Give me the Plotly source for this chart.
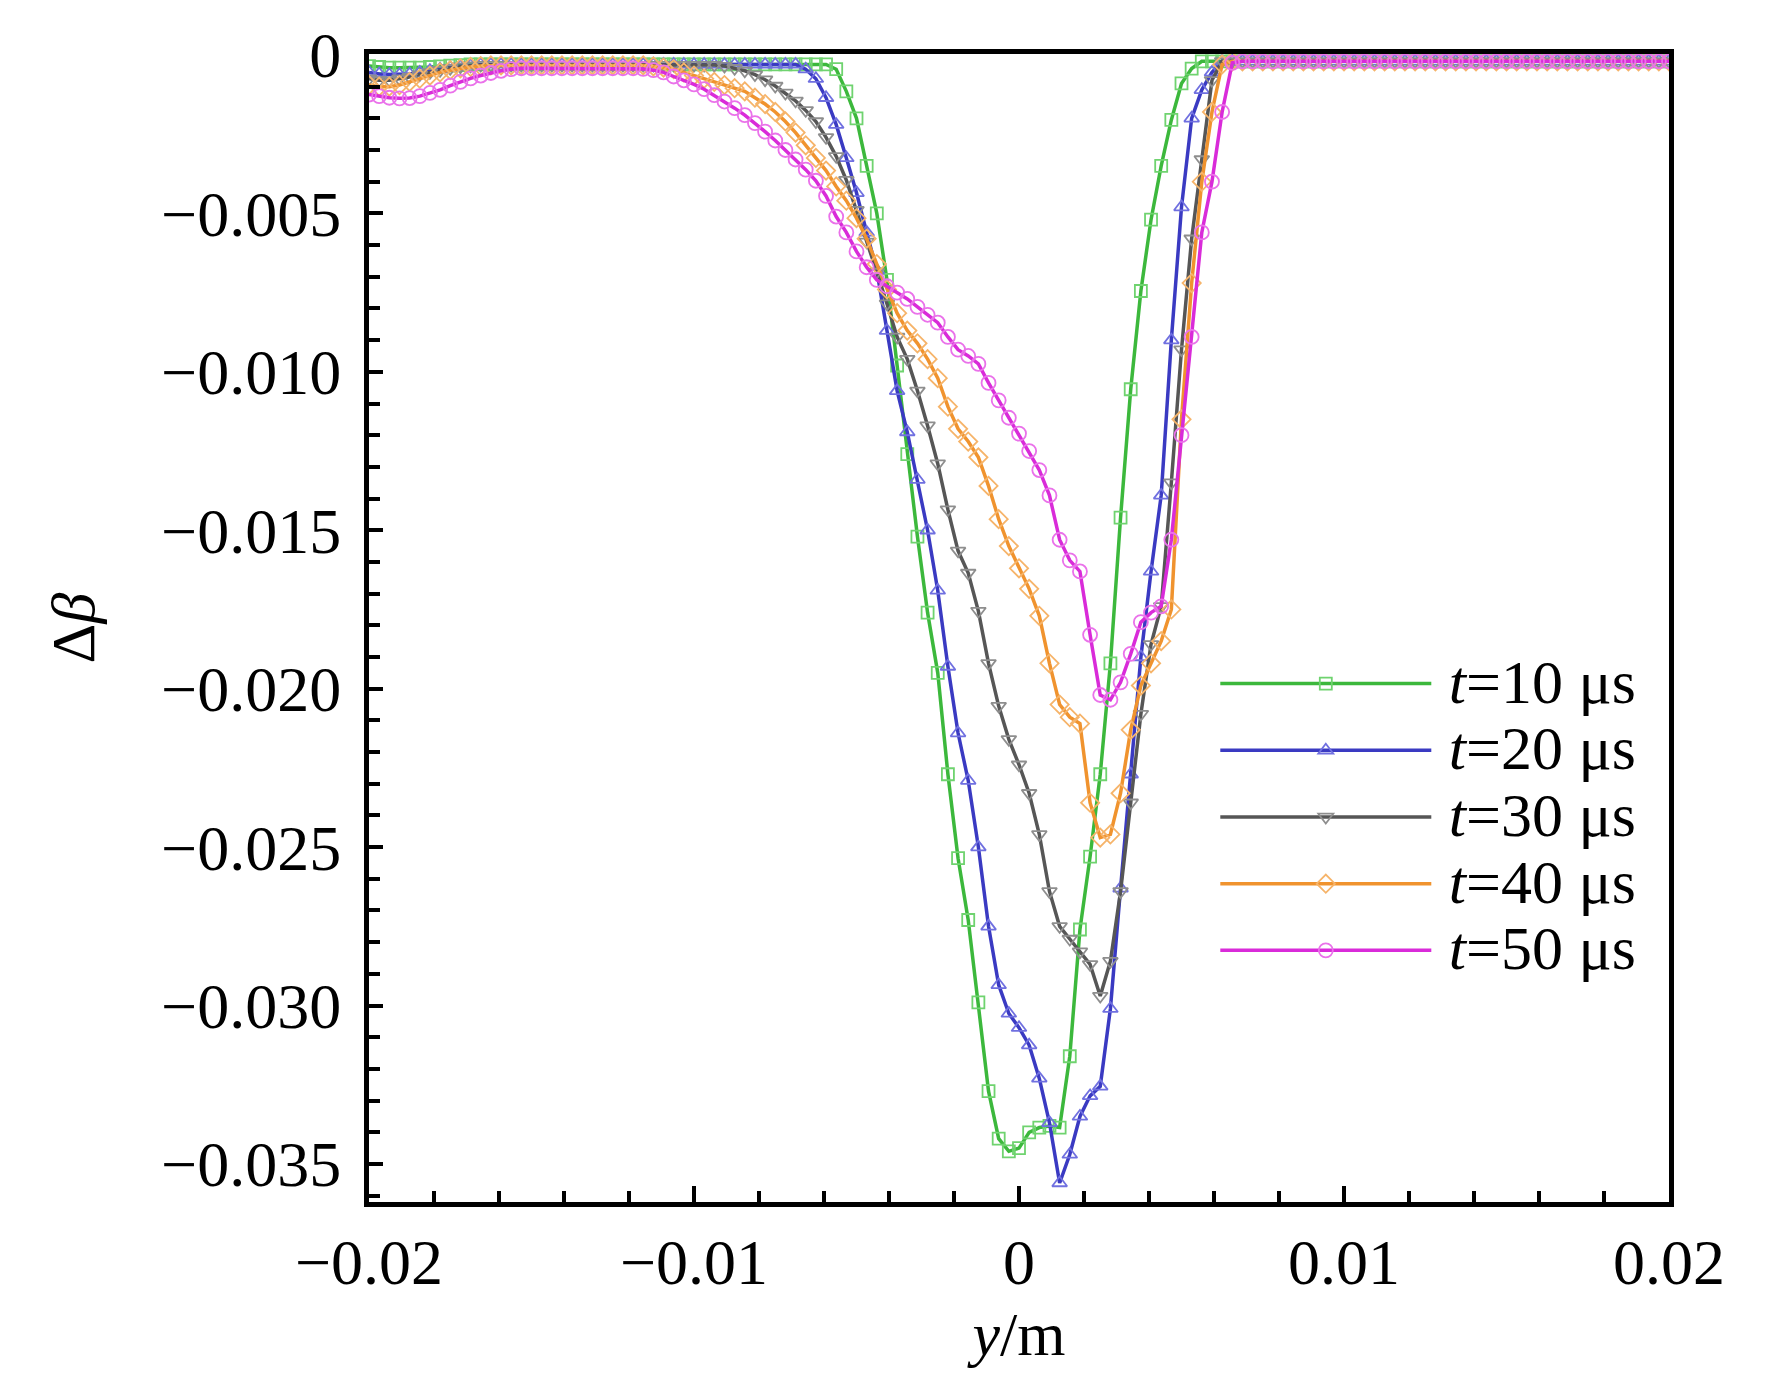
import plotly.graph_objects as go

# sampling positions along y (mm); every point carries a marker
y_mm = [
    -20.0, -19.6875, -19.375, -19.0625, -18.75, -18.4375, -18.125, -17.8125,
    -17.5, -17.1875, -16.875, -16.5625, -16.25, -15.9375, -15.625, -15.3125,
    -15.0, -14.6875, -14.375, -14.0625, -13.75, -13.4375, -13.125, -12.8125,
    -12.5, -12.1875, -11.875, -11.5625, -11.25, -10.9375, -10.625, -10.3125,
    -10.0, -9.6875, -9.375, -9.0625, -8.75, -8.4375, -8.125, -7.8125,
    -7.5, -7.1875, -6.875, -6.5625, -6.25, -5.9375, -5.625, -5.3125,
    -5.0, -4.6875, -4.375, -4.0625, -3.75, -3.4375, -3.125, -2.8125,
    -2.5, -2.1875, -1.875, -1.5625, -1.25, -0.9375, -0.625, -0.3125,
    0.0, 0.3125, 0.625, 0.9375, 1.25, 1.5625, 1.875, 2.1875,
    2.5, 2.8125, 3.125, 3.4375, 3.75, 4.0625, 4.375, 4.6875,
    5.0, 5.3125, 5.625, 5.9375, 6.25, 6.5625, 6.875, 7.1875,
    7.5, 7.8125, 8.125, 8.4375, 8.75, 9.0625, 9.375, 9.6875,
    10.0, 10.3125, 10.625, 10.9375, 11.25, 11.5625, 11.875, 12.1875,
    12.5, 12.8125, 13.125, 13.4375, 13.75, 14.0625, 14.375, 14.6875,
    15.0, 15.3125, 15.625, 15.9375, 16.25, 16.5625, 16.875, 17.1875,
    17.5, 17.8125, 18.125, 18.4375, 18.75, 19.0625, 19.375, 19.6875,
    20.0,
]

# delta beta, in units of 1e-3
dbeta_10 = [
    -0.35, -0.38, -0.40, -0.40, -0.40, -0.40, -0.38, -0.36,
    -0.34, -0.32, -0.30, -0.30, -0.30, -0.30, -0.30, -0.30,
    -0.30, -0.30, -0.30, -0.30, -0.30, -0.30, -0.30, -0.30,
    -0.30, -0.30, -0.30, -0.30, -0.30, -0.30, -0.30, -0.30,
    -0.30, -0.30, -0.30, -0.30, -0.30, -0.30, -0.30, -0.30,
    -0.30, -0.30, -0.30, -0.30, -0.30, -0.30, -0.45, -1.15,
    -2.00, -3.50, -5.00, -7.10, -9.80, -12.60, -15.20, -17.60,
    -19.50, -22.70, -25.35, -27.30, -29.90, -32.70, -34.20, -34.60,
    -34.50, -34.00, -33.85, -33.80, -33.85, -31.60, -27.60, -25.30,
    -22.70, -19.20, -14.60, -10.55, -7.45, -5.20, -3.50, -2.05,
    -0.90, -0.43, -0.20, -0.20, -0.20, -0.20, -0.20, -0.20,
    -0.20, -0.20, -0.20, -0.20, -0.20, -0.20, -0.20, -0.20,
    -0.20, -0.20, -0.20, -0.20, -0.20, -0.20, -0.20, -0.20,
    -0.20, -0.20, -0.20, -0.20, -0.20, -0.20, -0.20, -0.20,
    -0.20, -0.20, -0.20, -0.20, -0.20, -0.20, -0.20, -0.20,
    -0.20, -0.20, -0.20, -0.20, -0.20, -0.20, -0.20, -0.20,
    -0.20,
]

dbeta_20 = [
    -0.55, -0.60, -0.62, -0.62, -0.60, -0.55, -0.50, -0.45,
    -0.40, -0.36, -0.33, -0.30, -0.30, -0.30, -0.30, -0.30,
    -0.30, -0.30, -0.30, -0.30, -0.30, -0.30, -0.30, -0.30,
    -0.30, -0.30, -0.30, -0.30, -0.30, -0.30, -0.30, -0.30,
    -0.30, -0.30, -0.30, -0.30, -0.30, -0.30, -0.30, -0.30,
    -0.30, -0.30, -0.30, -0.45, -0.75, -1.35, -2.20, -3.25,
    -4.35, -5.60, -6.80, -8.70, -10.60, -11.90, -13.40, -15.00,
    -16.90, -19.30, -21.40, -22.90, -25.00, -27.50, -29.35, -30.25,
    -30.70, -31.25, -32.30, -33.70, -35.60, -34.70, -33.50, -32.85,
    -32.55, -30.10, -26.30, -22.70, -19.00, -16.30, -13.90, -9.00,
    -4.80, -2.00, -1.10, -0.55, -0.20, -0.20, -0.20, -0.20,
    -0.20, -0.20, -0.20, -0.20, -0.20, -0.20, -0.20, -0.20,
    -0.20, -0.20, -0.20, -0.20, -0.20, -0.20, -0.20, -0.20,
    -0.20, -0.20, -0.20, -0.20, -0.20, -0.20, -0.20, -0.20,
    -0.20, -0.20, -0.20, -0.20, -0.20, -0.20, -0.20, -0.20,
    -0.20, -0.20, -0.20, -0.20, -0.20, -0.20, -0.20, -0.20,
    -0.20,
]

dbeta_30 = [
    -0.75, -0.80, -0.80, -0.75, -0.70, -0.62, -0.55, -0.48,
    -0.42, -0.37, -0.34, -0.32, -0.32, -0.32, -0.32, -0.32,
    -0.32, -0.32, -0.32, -0.32, -0.32, -0.32, -0.32, -0.32,
    -0.32, -0.32, -0.32, -0.32, -0.32, -0.32, -0.32, -0.32,
    -0.32, -0.32, -0.32, -0.35, -0.42, -0.50, -0.62, -0.78,
    -0.98, -1.20, -1.45, -1.75, -2.10, -2.60, -3.20, -3.95,
    -4.90, -5.90, -6.85, -7.85, -8.90, -9.60, -10.60, -11.70,
    -12.90, -14.35, -15.65, -16.35, -17.55, -19.20, -20.55, -21.60,
    -22.40, -23.30, -24.60, -26.40, -27.50, -27.90, -28.30, -28.70,
    -29.70, -28.60, -26.40, -23.60, -20.80, -18.60, -17.40, -13.50,
    -9.30, -5.80, -3.30, -0.80, -0.20, -0.20, -0.20, -0.20,
    -0.20, -0.20, -0.20, -0.20, -0.20, -0.20, -0.20, -0.20,
    -0.20, -0.20, -0.20, -0.20, -0.20, -0.20, -0.20, -0.20,
    -0.20, -0.20, -0.20, -0.20, -0.20, -0.20, -0.20, -0.20,
    -0.20, -0.20, -0.20, -0.20, -0.20, -0.20, -0.20, -0.20,
    -0.20, -0.20, -0.20, -0.20, -0.20, -0.20, -0.20, -0.20,
    -0.20,
]

dbeta_40 = [
    -0.95, -1.00, -1.00, -0.95, -0.85, -0.75, -0.65, -0.55,
    -0.48, -0.42, -0.38, -0.35, -0.33, -0.33, -0.33, -0.33,
    -0.33, -0.33, -0.33, -0.33, -0.33, -0.33, -0.33, -0.33,
    -0.33, -0.33, -0.33, -0.33, -0.36, -0.40, -0.45, -0.55,
    -0.65, -0.75, -0.85, -0.95, -1.05, -1.15, -1.35, -1.55,
    -1.80, -2.10, -2.45, -2.85, -3.25, -3.65, -4.15, -4.60,
    -5.15, -5.80, -6.60, -7.40, -8.15, -8.70, -9.10, -9.60,
    -10.20, -11.10, -11.80, -12.20, -12.70, -13.60, -14.65, -15.50,
    -16.20, -16.85, -17.70, -19.20, -20.50, -20.90, -21.10, -23.60,
    -24.70, -24.60, -23.30, -21.30, -19.90, -19.20, -18.50, -17.50,
    -11.50, -7.20, -4.00, -1.80, -0.30, -0.20, -0.20, -0.20,
    -0.20, -0.20, -0.20, -0.20, -0.20, -0.20, -0.20, -0.20,
    -0.20, -0.20, -0.20, -0.20, -0.20, -0.20, -0.20, -0.20,
    -0.20, -0.20, -0.20, -0.20, -0.20, -0.20, -0.20, -0.20,
    -0.20, -0.20, -0.20, -0.20, -0.20, -0.20, -0.20, -0.20,
    -0.20, -0.20, -0.20, -0.20, -0.20, -0.20, -0.20, -0.20,
    -0.20,
]

dbeta_50 = [
    -1.25, -1.30, -1.35, -1.37, -1.36, -1.30, -1.20, -1.10,
    -0.97, -0.85, -0.74, -0.65, -0.57, -0.50, -0.45, -0.42,
    -0.42, -0.42, -0.42, -0.42, -0.42, -0.42, -0.42, -0.42,
    -0.42, -0.42, -0.42, -0.44, -0.48, -0.55, -0.68, -0.80,
    -0.93, -1.08, -1.27, -1.47, -1.68, -1.90, -2.15, -2.42,
    -2.70, -3.00, -3.30, -3.62, -3.97, -4.45, -5.10, -5.60,
    -6.20, -6.70, -7.10, -7.30, -7.50, -7.70, -7.95, -8.20,
    -8.45, -8.90, -9.30, -9.50, -9.75, -10.35, -10.90, -11.45,
    -11.95, -12.50, -13.10, -13.90, -15.30, -15.95, -16.30, -18.30,
    -20.20, -20.35, -19.80, -18.90, -17.90, -17.60, -17.40, -15.30,
    -12.00, -8.90, -5.60, -4.00, -1.80, -0.25, -0.20, -0.20,
    -0.20, -0.20, -0.20, -0.20, -0.20, -0.20, -0.20, -0.20,
    -0.20, -0.20, -0.20, -0.20, -0.20, -0.20, -0.20, -0.20,
    -0.20, -0.20, -0.20, -0.20, -0.20, -0.20, -0.20, -0.20,
    -0.20, -0.20, -0.20, -0.20, -0.20, -0.20, -0.20, -0.20,
    -0.20, -0.20, -0.20, -0.20, -0.20, -0.20, -0.20, -0.20,
    -0.20,
]

labels = ["<i>t</i>=10 μs", "<i>t</i>=20 μs", "<i>t</i>=30 μs",
          "<i>t</i>=40 μs", "<i>t</i>=50 μs"]

x_ticks = [-0.02, -0.01, 0, 0.01, 0.02]
x_ticktext = ["−0.02", "−0.01", "0", "0.01", "0.02"]
y_ticks = [0, -0.005, -0.010, -0.015, -0.020, -0.025, -0.030, -0.035]
y_ticktext = ["0", "−0.005", "−0.010", "−0.015", "−0.020",
              "−0.025", "−0.030", "−0.035"]

# line colour, marker colour, marker symbol, marker size for each time
styles = [
    ("#3cb83c", "#6fd36f", "square-open", 12),
    ("#3a3ac2", "#7070e0", "triangle-up-open", 13),
    ("#565656", "#8e8e8e", "triangle-down-open", 13),
    ("#f0932e", "#f6b46a", "diamond-open", 14),
    ("#d92bd9", "#ea72ea", "circle-open", 14),
]

FONT = "Liberation Serif, Times New Roman, serif"

x_vals = [v * 1e-3 for v in y_mm]
fig = go.Figure()
for name, vals, (lc, mc, sym, ms) in zip(labels, [dbeta_10, dbeta_20, dbeta_30, dbeta_40, dbeta_50], styles):
    fig.add_trace(go.Scatter(
        x=x_vals, y=[v * 1e-3 for v in vals],
        mode="lines+markers",
        name="<span style='font-size:62px'>\u2009" + name + "</span>",
        line=dict(color=lc, width=3.5),
        marker=dict(symbol=sym, size=ms, color=mc, line=dict(width=1.8, color=mc)),
    ))

axis_common = dict(
    showline=True, linewidth=5, linecolor="black", mirror=True,
    showgrid=False, zeroline=False,
    ticks="inside", tickcolor="black", tickwidth=4,
    tickfont=dict(family=FONT, size=64, color="black"),
    ticklabeloverflow="allow",
)

fig.update_xaxes(
    range=[-0.02, 0.02], tickmode="array", tickvals=x_ticks, ticktext=x_ticktext,
    ticklen=16,
    minor=dict(ticks="inside", tickmode="linear", tick0=0, dtick=0.002,
               ticklen=11, tickwidth=4, tickcolor="black"),
    title=dict(text="<i>y</i>/m", font=dict(family=FONT, size=62, color="black"), standoff=16),
    **axis_common,
)
fig.update_yaxes(
    range=[-0.0362, 0.00003], tickmode="array", tickvals=y_ticks, ticktext=y_ticktext,
    ticklen=14, ticklabelstandoff=10,
    minor=dict(ticks="inside", tickmode="linear", tick0=0, dtick=0.001,
               ticklen=11, tickwidth=4, tickcolor="black"),
    title=dict(text="Δ<i>β</i>", font=dict(family=FONT, size=62, color="black"), standoff=48),
    **axis_common,
)

fig.update_layout(
    width=1756, height=1361,
    margin=dict(l=361, r=95, t=24, b=167),
    paper_bgcolor="white", plot_bgcolor="white",
    showlegend=True,
    legend=dict(
        x=0.651, y=0.485, xanchor="left", yanchor="top",
        bgcolor="rgba(0,0,0,0)", borderwidth=0,
        font=dict(family=FONT, size=49, color="black"),
        itemwidth=211, tracegroupgap=0,
    ),
)

fig.write_html("out.html")
